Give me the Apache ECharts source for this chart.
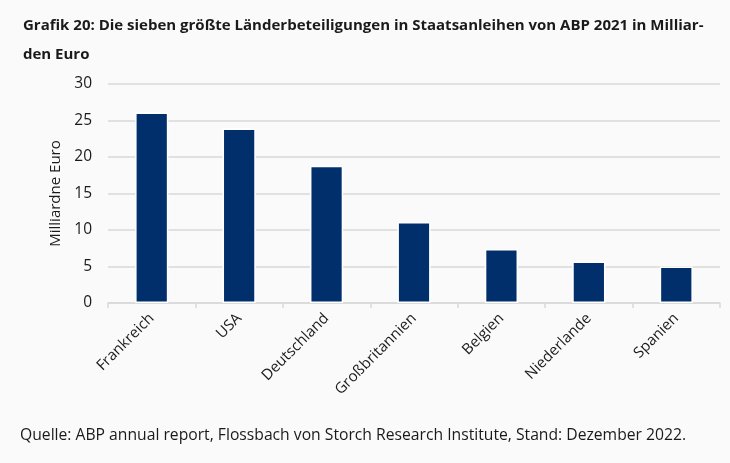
<!DOCTYPE html>
<html>
<head>
<meta charset="utf-8">
<script src="https://cdn.jsdelivr.net/npm/echarts@6/dist/echarts.min.js"></script>
<style>
html,body{margin:0;padding:0;background:#fafafa;}
#c{width:730px;height:463px;}
</style>
</head>
<body>
<div id="c"></div>
<script>
const categories = ['Frankreich','USA','Deutschland','Großbritannien','Belgien','Niederlande','Spanien'];
const values = [26.1, 23.9, 18.8, 11.1, 7.4, 5.7, 5.0];
const yTicks = [0, 5, 10, 15, 20, 25, 30];
const titleText = 'Grafik 20: Die sieben größte Länderbeteiligungen in Staatsanleihen von ABP 2021 in Milliar-\nden Euro';
const sourceText = 'Quelle: ABP annual report, Flossbach von Storch Research Institute, Stand: Dezember 2022.';
const yName = 'Milliardne Euro';

const FONT = '"Open Sans", sans-serif';
const chart = echarts.init(document.getElementById('c'));
chart.setOption({
  backgroundColor: '#fafafa',
  animation: false,
  textStyle: {fontFamily: FONT},
  title: {
    text: titleText,
    left: 18, top: 6,
    textStyle: {fontFamily: FONT, fontWeight: 'bold', fontSize: 15, color: '#1a1a1a', lineHeight: 29}
  },
  graphic: [{
    type: 'text', left: 20, top: 428,
    style: {text: sourceText, font: '15.7px ' + FONT, fill: '#1a1a1a'}
  }],
  grid: {left: 108, right: 10, top: 84, bottom: 160, containLabel: false},
  xAxis: {
    type: 'category',
    data: categories,
    axisLine: {lineStyle: {color: '#d9d9d9', width: 1.5}},
    axisTick: {show: true, length: 5, lineStyle: {color: '#d9d9d9', width: 1.5}},
    axisLabel: {rotate: 45, fontSize: 15, color: '#1a1a1a', margin: 13, fontFamily: FONT, interval: 0}
  },
  yAxis: {
    type: 'value',
    min: yTicks[0], max: yTicks[yTicks.length - 1], interval: 5,
    name: yName, nameLocation: 'middle', nameGap: 42,
    nameTextStyle: {fontSize: 15, color: '#1a1a1a', fontFamily: FONT},
    axisLine: {show: false}, axisTick: {show: false},
    axisLabel: {fontSize: 15.5, color: '#1a1a1a', margin: 16, fontFamily: FONT},
    splitLine: {lineStyle: {color: '#d9d9d9', width: 1.5}}
  },
  series: [{
    type: 'bar',
    data: values,
    barWidth: '38%',
    itemStyle: {color: '#002f6b', borderColor: '#ffffff', borderWidth: 1.5}
  }]
});
</script>
</body>
</html>
